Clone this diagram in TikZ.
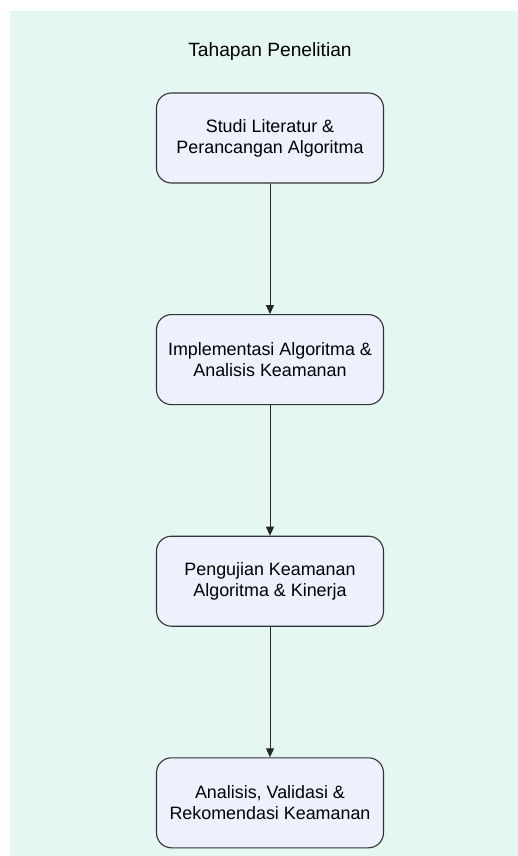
\documentclass[tikz,border=0pt]{standalone}
\usepackage{fontspec}
\setmainfont{Liberation Sans}
\usetikzlibrary{positioning,arrows.meta}
\definecolor{bgmint}{HTML}{E4F7F2}
\definecolor{tahapfill}{HTML}{ECF1FD}
\definecolor{tahapline}{HTML}{333333}
\tikzset{tahap/.style={draw=tahapline,fill=tahapfill,rounded corners=15pt,line width=1.1pt,minimum width=227pt,minimum height=90pt,align=center,font=\fontsize{17.9}{21}\selectfont},
	panah/.style={-{Triangle[length=9pt,width=8pt]},line width=1pt,draw=black!85}}
\begin{document}
\begin{tikzpicture}[x=1pt,y=-1pt,node distance=130.5pt]
		\useasboundingbox (0,0) rectangle (518,856);
		\fill[bgmint](10,11) rectangle (518,856);
		\node[font=\fontsize{19.2}{22}\selectfont] (judul) at (270,52) {Tahapan Penelitian};
		\node[tahap] (studi) at (270,138) {Studi Literatur \&\\Perancangan Algoritma};
		\node[tahap,below=of studi] (implementasi) {Implementasi Algoritma \&\\Analisis Keamanan};
		\node[tahap,below=of implementasi] (pengujian) {Pengujian Keamanan\\Algoritma \& Kinerja};
		\node[tahap,below=of pengujian] (analisis) {Analisis, Validasi \&\\Rekomendasi Keamanan};
		\draw[panah](studi)--(implementasi);
		\draw[panah](implementasi)--(pengujian);
		\draw[panah](pengujian)--(analisis);
	    \end{tikzpicture}
\end{document}
